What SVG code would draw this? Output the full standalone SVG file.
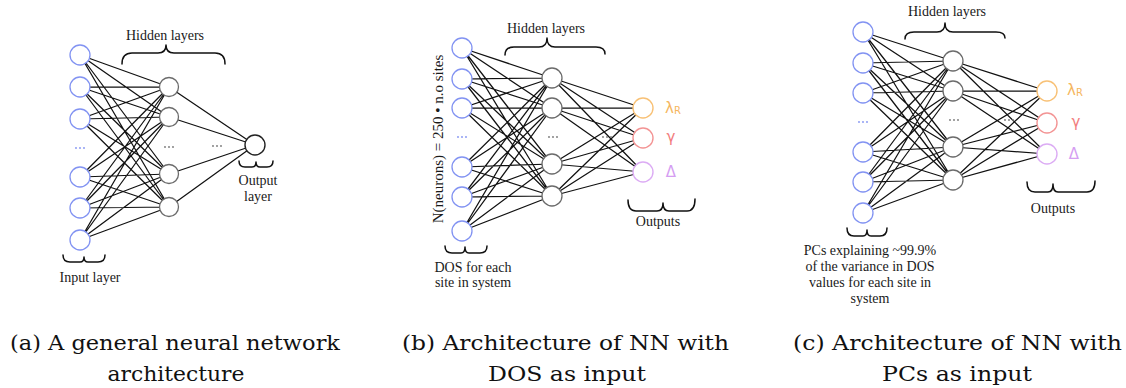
<svg xmlns="http://www.w3.org/2000/svg" width="1126" height="388" viewBox="0 0 1126 388">
  <style>
    .edge { fill: none; stroke: #111; stroke-width: 1.25; stroke-linecap: round; }
    .brace { fill: none; stroke: #111; stroke-width: 1.5; stroke-linecap: round; stroke-linejoin: round; }
    .in { fill: #fff; stroke: #8293f2; stroke-width: 1.3; }
    .hid { fill: #fff; stroke: #6b6b6b; stroke-width: 1.3; }
    .out { fill: #fff; stroke: #222; stroke-width: 1.4; }
    .o1 { fill: #fff; stroke: #f8c176; stroke-width: 1.4; }
    .o2 { fill: #fff; stroke: #f39494; stroke-width: 1.4; }
    .o3 { fill: #fff; stroke: #dcacf4; stroke-width: 1.4; }
    .lbl { font-family: "Liberation Serif", "Times New Roman", serif; font-size: 14px; fill: #1a1a1a; }
    .hand { font-family: "DejaVu Sans", sans-serif; font-size: 15px; }
    .dotb { fill: #8293f2; }
    .dotg { fill: #777; }
  </style>

  <!-- connectors: full layer-to-layer links, drawn beneath the neurons -->
  <g id="connectors">
    <!-- (a) input -> hidden -->
    <path class="edge" d="M80 55L169 87M80 55L169 117M80 55L169 174M80 55L169 207
      M80 87L169 87M80 87L169 117M80 87L169 174M80 87L169 207
      M80 119L169 87M80 119L169 117M80 119L169 174M80 119L169 207
      M80 177L169 87M80 177L169 117M80 177L169 174M80 177L169 207
      M80 208L169 87M80 208L169 117M80 208L169 174M80 208L169 207
      M80 240L169 87M80 240L169 117M80 240L169 174M80 240L169 207"/>
    <!-- (a) hidden -> output -->
    <path class="edge" d="M169 87L255 145M169 117L255 145M169 174L255 145M169 207L255 145"/>

    <!-- (b) input -> hidden -->
    <path class="edge" d="M462 48L552 78M462 48L552 108M462 48L552 164M462 48L552 196
      M462 79L552 78M462 79L552 108M462 79L552 164M462 79L552 196
      M462 108L552 78M462 108L552 108M462 108L552 164M462 108L552 196
      M462 167L552 78M462 167L552 108M462 167L552 164M462 167L552 196
      M462 197L552 78M462 197L552 108M462 197L552 164M462 197L552 196
      M462 231L552 78M462 231L552 108M462 231L552 164M462 231L552 196"/>
    <!-- (b) hidden -> outputs -->
    <path class="edge" d="M552 78L643 108M552 78L643 138M552 78L643 172
      M552 108L643 108M552 108L643 138M552 108L643 172
      M552 164L643 108M552 164L643 138M552 164L643 172
      M552 196L643 108M552 196L643 138M552 196L643 172"/>

    <!-- (c) input -> hidden -->
    <path class="edge" d="M863 32L953 61M863 32L953 91M863 32L953 147M863 32L953 180
      M863 63L953 61M863 63L953 91M863 63L953 147M863 63L953 180
      M863 93L953 61M863 93L953 91M863 93L953 147M863 93L953 180
      M863 152L953 61M863 152L953 91M863 152L953 147M863 152L953 180
      M863 182L953 61M863 182L953 91M863 182L953 147M863 182L953 180
      M863 213L953 61M863 213L953 91M863 213L953 147M863 213L953 180"/>
    <!-- (c) hidden -> outputs -->
    <path class="edge" d="M953 61L1047 91M953 61L1047 123M953 61L1047 154
      M953 91L1047 91M953 91L1047 123M953 91L1047 154
      M953 147L1047 91M953 147L1047 123M953 147L1047 154
      M953 180L1047 91M953 180L1047 123M953 180L1047 154"/>
  </g>

  <!-- ===== (a) general network ===== -->
  <g id="a-in1"><circle class="in" cx="80" cy="55" r="10"/></g>
  <g id="a-in2"><circle class="in" cx="80" cy="87" r="10"/></g>
  <g id="a-in3"><circle class="in" cx="80" cy="119" r="10"/></g>
  <g id="a-in4"><circle class="in" cx="80" cy="177" r="10"/></g>
  <g id="a-in5"><circle class="in" cx="80" cy="208" r="10"/></g>
  <g id="a-in6"><circle class="in" cx="80" cy="240" r="10"/></g>
  <g id="a-hid1"><circle class="hid" cx="169" cy="87" r="9.5"/></g>
  <g id="a-hid2"><circle class="hid" cx="169" cy="117" r="9.5"/></g>
  <g id="a-hid3"><circle class="hid" cx="169" cy="174" r="9.5"/></g>
  <g id="a-hid4"><circle class="hid" cx="169" cy="207" r="9.5"/></g>
  <g id="a-out"><circle class="out" cx="255" cy="145" r="10"/></g>
  <g id="a-dots">
    <circle class="dotb" cx="76" cy="148" r="0.9"/><circle class="dotb" cx="80" cy="148" r="0.9"/><circle class="dotb" cx="84" cy="148" r="0.9"/>
    <circle class="dotg" cx="165" cy="147" r="0.9"/><circle class="dotg" cx="169" cy="147" r="0.9"/><circle class="dotg" cx="173" cy="147" r="0.9"/>
    <circle class="dotg" cx="213" cy="146" r="0.9"/><circle class="dotg" cx="217" cy="146" r="0.9"/><circle class="dotg" cx="221" cy="146" r="0.9"/>
  </g>
  <g id="a-labels">
    <text class="lbl" x="165" y="40" text-anchor="middle">Hidden layers</text>
    <path class="brace" d="M122 64Q122 53 132 53L158 53Q166 53 166 45Q166 53 174 53L215 53Q225 53 225 64"/>
    <path class="brace" d="M63 255Q63 262 70 262L80 262Q84 262 84 257Q84 262 88 262L98 262Q105 262 105 255"/>
    <text class="lbl" x="90" y="282" text-anchor="middle">Input layer</text>
    <path class="brace" d="M239 161Q239 167 245 167L252 167Q256 167 256 162Q256 167 260 167L267 167Q273 167 273 161"/>
    <text class="lbl" x="258" y="185" text-anchor="middle">Output</text>
    <text class="lbl" x="258" y="201" text-anchor="middle">layer</text>
  </g>

  <!-- ===== (b) DOS as input ===== -->
  <g id="b-in1"><circle class="in" cx="462" cy="48" r="10"/></g>
  <g id="b-in2"><circle class="in" cx="462" cy="79" r="10"/></g>
  <g id="b-in3"><circle class="in" cx="462" cy="108" r="10"/></g>
  <g id="b-in4"><circle class="in" cx="462" cy="167" r="10"/></g>
  <g id="b-in5"><circle class="in" cx="462" cy="197" r="10"/></g>
  <g id="b-in6"><circle class="in" cx="462" cy="231" r="10"/></g>
  <g id="b-hid1"><circle class="hid" cx="552" cy="78" r="10"/></g>
  <g id="b-hid2"><circle class="hid" cx="552" cy="108" r="10"/></g>
  <g id="b-hid3"><circle class="hid" cx="552" cy="164" r="10"/></g>
  <g id="b-hid4"><circle class="hid" cx="552" cy="196" r="10"/></g>
  <g id="b-out-lambda"><circle class="o1" cx="643" cy="108" r="10"/>
    <text class="hand" x="665" y="113" fill="#f5b660">λ<tspan font-size="10" dy="1">R</tspan></text></g>
  <g id="b-out-gamma"><circle class="o2" cx="643" cy="138" r="10"/>
    <text class="hand" x="671" y="142" text-anchor="middle" fill="#f27d7d">γ</text></g>
  <g id="b-out-delta"><circle class="o3" cx="643" cy="172" r="10"/>
    <text class="hand" x="671" y="177" text-anchor="middle" fill="#d59ef2">Δ</text></g>
  <g id="b-dots">
    <circle class="dotb" cx="458" cy="137" r="0.9"/><circle class="dotb" cx="462" cy="137" r="0.9"/><circle class="dotb" cx="466" cy="137" r="0.9"/>
    <circle class="dotg" cx="549" cy="137" r="0.9"/><circle class="dotg" cx="553" cy="137" r="0.9"/><circle class="dotg" cx="557" cy="137" r="0.9"/>
    <circle class="dotg" cx="603" cy="137" r="0.9"/><circle class="dotg" cx="607" cy="137" r="0.9"/><circle class="dotg" cx="611" cy="137" r="0.9"/>
  </g>
  <g id="b-labels">
    <text class="lbl" x="546" y="33" text-anchor="middle">Hidden layers</text>
    <path class="brace" d="M505 55Q505 47 514 47L539 47Q547 47 547 38Q547 47 555 47L596 47Q605 47 605 54"/>
    <text class="lbl" style="font-size:15px" transform="translate(443 139) rotate(-90)" text-anchor="middle">N(neurons) = 250 • n.o sites</text>
    <path class="brace" d="M445 246Q445 253 452 253L461 253Q465 253 465 247Q465 253 469 253L480 253Q487 253 487 246"/>
    <text class="lbl" x="473" y="272" text-anchor="middle">DOS for each</text>
    <text class="lbl" x="473" y="287" text-anchor="middle">site in system</text>
    <path class="brace" d="M628 200Q628 211 636 211L657 211Q663 211 663 203Q663 211 669 211L687 211Q695 211 695 199"/>
    <text class="lbl" x="658" y="226" text-anchor="middle">Outputs</text>
  </g>

  <!-- ===== (c) PCs as input ===== -->
  <g id="c-in1"><circle class="in" cx="863" cy="32" r="10"/></g>
  <g id="c-in2"><circle class="in" cx="863" cy="63" r="10"/></g>
  <g id="c-in3"><circle class="in" cx="863" cy="93" r="10"/></g>
  <g id="c-in4"><circle class="in" cx="863" cy="152" r="10"/></g>
  <g id="c-in5"><circle class="in" cx="863" cy="182" r="10"/></g>
  <g id="c-in6"><circle class="in" cx="863" cy="213" r="10"/></g>
  <g id="c-hid1"><circle class="hid" cx="953" cy="61" r="10"/></g>
  <g id="c-hid2"><circle class="hid" cx="953" cy="91" r="10"/></g>
  <g id="c-hid3"><circle class="hid" cx="953" cy="147" r="10"/></g>
  <g id="c-hid4"><circle class="hid" cx="953" cy="180" r="10"/></g>
  <g id="c-out-lambda"><circle class="o1" cx="1047" cy="91" r="10"/>
    <text class="hand" x="1067" y="95" fill="#f5b660">λ<tspan font-size="10" dy="1">R</tspan></text></g>
  <g id="c-out-gamma"><circle class="o2" cx="1047" cy="123" r="10"/>
    <text class="hand" x="1076" y="127" text-anchor="middle" fill="#f27d7d">γ</text></g>
  <g id="c-out-delta"><circle class="o3" cx="1047" cy="154" r="10"/>
    <text class="hand" x="1074" y="159" text-anchor="middle" fill="#d59ef2">Δ</text></g>
  <g id="c-dots">
    <circle class="dotb" cx="859" cy="122" r="0.9"/><circle class="dotb" cx="863" cy="122" r="0.9"/><circle class="dotb" cx="867" cy="122" r="0.9"/>
    <circle class="dotg" cx="950" cy="120" r="0.9"/><circle class="dotg" cx="954" cy="120" r="0.9"/><circle class="dotg" cx="958" cy="120" r="0.9"/>
    <circle class="dotg" cx="1005" cy="120" r="0.9"/><circle class="dotg" cx="1009" cy="120" r="0.9"/><circle class="dotg" cx="1013" cy="120" r="0.9"/>
  </g>
  <g id="c-labels">
    <text class="lbl" x="947" y="16" text-anchor="middle">Hidden layers</text>
    <path class="brace" d="M905 39Q905 32 914 32L937 32Q945 32 945 23Q945 32 953 32L996 32Q1005 32 1005 38"/>
    <path class="brace" d="M847 228Q847 236 854 236L863 236Q867 236 867 230Q867 236 871 236L880 236Q887 236 887 228"/>
    <text class="lbl" x="870" y="255" text-anchor="middle">PCs explaining ~99.9%</text>
    <text class="lbl" x="870" y="271" text-anchor="middle">of the variance in DOS</text>
    <text class="lbl" x="870" y="287" text-anchor="middle">values for each site in</text>
    <text class="lbl" x="870" y="303" text-anchor="middle">system</text>
    <path class="brace" d="M1027 182Q1027 192 1035 192L1048 192Q1053 192 1053 184Q1053 192 1058 192L1087 192Q1095 192 1095 181"/>
    <text class="lbl" x="1053" y="213" text-anchor="middle">Outputs</text>
  </g>

  <!-- sub-figure captions, widened horizontally to the caption face's proportions -->
  <g id="captions" font-family="DejaVu Serif, serif" font-size="21" fill="#111">
    <text x="10" y="350" textLength="330" lengthAdjust="spacingAndGlyphs">(a) A general neural network</text>
    <text x="176" y="381" text-anchor="middle" textLength="137" lengthAdjust="spacingAndGlyphs">architecture</text>
    <text x="402" y="350" textLength="327" lengthAdjust="spacingAndGlyphs">(b) Architecture of NN with</text>
    <text x="567" y="381" text-anchor="middle" textLength="158" lengthAdjust="spacingAndGlyphs">DOS as input</text>
    <text x="793" y="350" textLength="329" lengthAdjust="spacingAndGlyphs">(c) Architecture of NN with</text>
    <text x="957" y="381" text-anchor="middle" textLength="150" lengthAdjust="spacingAndGlyphs">PCs as input</text>
  </g>
</svg>
